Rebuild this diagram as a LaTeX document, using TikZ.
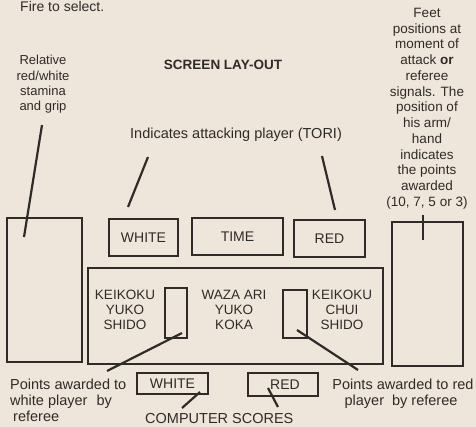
\documentclass[tikz,border=0pt]{standalone}
\usepackage{fontspec}
\setmainfont{Liberation Sans}
\definecolor{paper}{HTML}{EEE6DA}
\definecolor{ink}{HTML}{2F2B28}
\begin{document}
\begin{tikzpicture}[x=1pt,y=-1pt,
  box/.style={draw=ink, line width=2.2pt, inner sep=0pt, outer sep=0pt, text=ink, font=\fontsize{14}{16}\selectfont},
  ptr/.style={draw=ink, line width=2.2pt},
  lbl/.style={text=ink, inner sep=0pt, align=center},
  mid/.style={lbl, anchor=north, font=\fontsize{13.5}{15}\selectfont},
  bot/.style={lbl, font=\fontsize{14.5}{16}\selectfont}
]
\fill[paper] (0,0) rectangle (476,427);
\useasboundingbox (0,0) rectangle (476,427);

% top texts
\node[lbl, anchor=base west, font=\fontsize{14}{16}\selectfont] (fire) at (20,12) {Fire to select.};
\node[lbl, anchor=north, font=\fontsize{13}{15.4}\selectfont] (stam) at (43,55) {Relative\\red/white\\stamina\\and grip};
\node[lbl, anchor=base, font=\bfseries\fontsize{13.5}{16}\selectfont] (title) at (223,70) {SCREEN LAY-OUT};
\node[lbl, anchor=north, font=\fontsize{13.5}{15.75}\selectfont] (feet) at (427,8)
  {Feet\\positions at\\moment of\\attack \textbf{or}\\referee\\signals. The\\position of\\his arm/\\hand\\indicates\\the points\\awarded\\(10, 7, 5 or 3)};
\node[lbl, anchor=base, font=\fontsize{14.5}{17}\selectfont] (tori) at (236,139) {Indicates attacking player (TORI)};

% boxes
\node[box, minimum width=75pt, minimum height=144pt] (lt) at (44.5,290) {};
\node[box, minimum width=69pt, minimum height=37pt] (white) at (143.5,237.5) {WHITE};
\node[box, minimum width=91pt, minimum height=37pt] (time) at (237.5,236.5) {TIME};
\node[box, minimum width=71pt, minimum height=37pt] (red) at (329.5,238.5) {RED};
\node[box, minimum width=71pt, minimum height=144pt] (rt) at (427.5,294) {};
\node[box, minimum width=295pt, minimum height=96pt] (big) at (235.5,316) {};
\node[box, minimum width=22pt, minimum height=50pt] (sl) at (176,313) {};
\node[box, minimum width=24pt, minimum height=48pt] (sr) at (295,314) {};
\node[box, minimum width=71pt, minimum height=21pt] (white2) at (172.5,383.5) {WHITE};
\node[box, minimum width=70pt, minimum height=23pt] (red2) at (283,384.5) {\hspace{4pt}RED};

% texts in big box
\node[mid] (kl) at (125,290) {KEIKOKU\\YUKO\\SHIDO};
\node[mid] (wz) at (234,290) {WAZA ARI\\YUKO\\KOKA};
\node[mid] (kr) at (342,290) {KEIKOKU\\CHUI\\SHIDO};

% bottom texts
\node[bot, anchor=base west] (pw1) at (10,389) {Points awarded to};
\node[bot, anchor=base west] (pw2) at (10,405) {white player\hspace{5pt} by};
\node[bot, anchor=base west] (pw3) at (13,421) {referee};
\node[bot, anchor=base] (pr1) at (403,389) {Points awarded to red};
\node[bot, anchor=base] (pr2) at (401,405) {player\hspace{4pt} by referee};
\node[bot, anchor=base west] (cs) at (145,423) {COMPUTER SCORES};

% connector ends
\coordinate (stamA) at (42,125);  \coordinate (stamB) at (24,237);
\coordinate (toriL1) at (148,157); \coordinate (toriL2) at (128,207);
\coordinate (toriR1) at (322,156); \coordinate (toriR2) at (335,210);
\coordinate (feetA) at (423,215); \coordinate (feetB) at (423,240);
\coordinate (slA) at (182,333);   \coordinate (slB) at (107,371);
\coordinate (srA) at (297,330);   \coordinate (srB) at (358,370);
\coordinate (w2A) at (200,392);   \coordinate (w2B) at (182,408);
\coordinate (r2A) at (268,388);   \coordinate (r2B) at (278,407);

\draw[ptr] (stamA) -- (stamB);
\draw[ptr] (toriL1) -- (toriL2);
\draw[ptr] (toriR1) -- (toriR2);
\draw[ptr] (feetA) -- (feetB);
\draw[ptr] (slA) -- (slB);
\draw[ptr] (srA) -- (srB);
\draw[ptr] (w2A) -- (w2B);
\draw[ptr] (r2A) -- (r2B);
\end{tikzpicture}
\end{document}
